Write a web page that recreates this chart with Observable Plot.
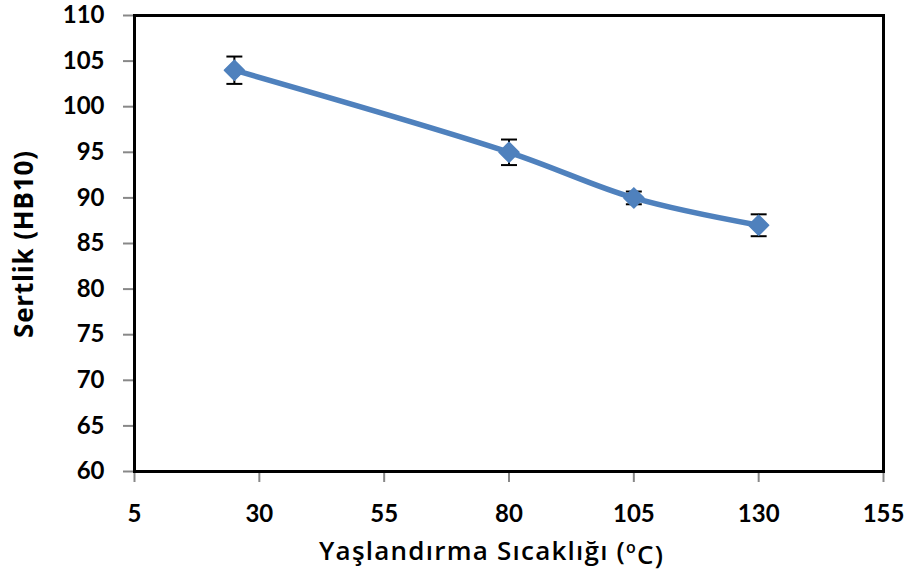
<!DOCTYPE html>
<html>
<head>
<meta charset="utf-8">
<script src="https://cdn.jsdelivr.net/npm/d3@7"></script>
<script src="https://cdn.jsdelivr.net/npm/@observablehq/plot@0.6"></script>
<style>
  html, body { margin: 0; padding: 0; background: #fff; }
</style>
</head>
<body>
<div id="chart"></div>
<script>
const temps = [25, 80, 105, 130];
const hardness = [104, 95, 90, 87];
const errors = [1.5, 1.4, 0.7, 1.2];
const xTicks = [5, 30, 55, 80, 105, 130, 155];
const yTicks = [60, 65, 70, 75, 80, 85, 90, 95, 100, 105, 110];
const xLabel = "Yaşlandırma Sıcaklığı (oC)";
const yLabel = "Sertlik (HB10)";

const data = temps.map((t, i) => ({t, h: hardness[i], lo: hardness[i] - errors[i], hi: hardness[i] + errors[i]}));

const cap = {draw(ctx, size) { const r = Math.sqrt(size) / 2; ctx.moveTo(-r, 0); ctx.lineTo(r, 0); }};

const tickFont = "Lato, 'Open Sans', sans-serif";
const labelFont = "'Open Sans', Lato, sans-serif";

const chart = Plot.plot({
  width: 905,
  height: 577,
  marginLeft: 134,
  marginRight: 22,
  marginTop: 15,
  marginBottom: 106,
  style: {fontFamily: tickFont, fontSize: "24px", fontWeight: "bold", color: "#000", background: "#fff"},
  x: {domain: [5, 155]},
  y: {domain: [60, 110]},
  marks: [
    Plot.axisX({ticks: xTicks, tickSize: 11, tickPadding: 22, stroke: "#888", strokeWidth: 2, label: null, fontSize: 24}),
    Plot.axisY({ticks: yTicks, tickSize: 11, tickPadding: 19, stroke: "#888", strokeWidth: 2, label: null, fontSize: 24}),
    Plot.text([xLabel], {frameAnchor: "bottom", textAnchor: "middle", lineAnchor: "middle", dx: -18, dy: 80, text: d => d, fontFamily: labelFont, fontWeight: 600, fontSize: 26, fill: "#000"}),
    Plot.text([yLabel], {frameAnchor: "left", textAnchor: "middle", lineAnchor: "middle", dx: -110, dy: 1, rotate: -90, text: d => d, fontFamily: labelFont, fontWeight: 700, fontSize: 26, fill: "#000"}),
    Plot.ruleX(data, {x: "t", y1: "lo", y2: "hi", stroke: "#000", strokeWidth: 2}),
    Plot.dot(data, {x: "t", y: "lo", symbol: cap, r: 9, stroke: "#000", strokeWidth: 2}),
    Plot.dot(data, {x: "t", y: "hi", symbol: cap, r: 9, stroke: "#000", strokeWidth: 2}),
    Plot.line(data, {x: "t", y: "h", curve: "catmull-rom", stroke: "#4F81BD", strokeWidth: 5.5}),
    Plot.dot(data, {x: "t", y: "h", symbol: "diamond2", r: 9, fill: "#4F81BD", stroke: "#4F81BD", strokeWidth: 1.5, strokeLinejoin: "round"}),
    Plot.frame({stroke: "#000", strokeWidth: 3})
  ]
});
document.getElementById("chart").appendChild(chart);

// superscript "o" in the x-axis label, and widths matched to the reference
d3.select(chart).selectAll("text").each(function() {
  const el = d3.select(this);
  if (el.text() === xLabel) {
    el.text(null);
    el.append("tspan").text("Yaşlandırma Sıcaklığı (");
    el.append("tspan").attr("dy", "-0.45em").attr("font-size", "16px").text("o");
    el.append("tspan").attr("dy", "0.45em").text("C)");
    el.attr("textLength", 344).attr("lengthAdjust", "spacing");
  } else if (el.text() === yLabel) {
    el.attr("textLength", 187).attr("lengthAdjust", "spacing");
  }
});
</script>
</body>
</html>
